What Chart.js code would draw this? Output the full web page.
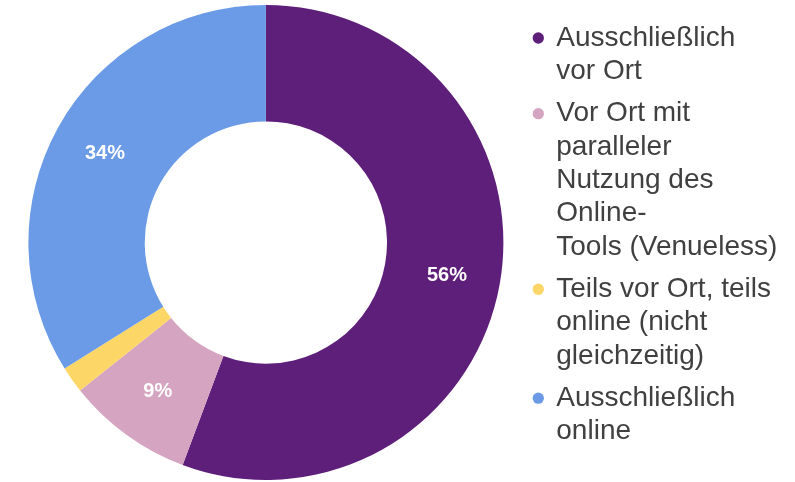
<!DOCTYPE html>
<html>
<head>
<meta charset="utf-8">
<script src="https://cdn.jsdelivr.net/npm/chart.js@4"></script>
<style>
  body { margin: 0; background: #fff; }
  #wrap { width: 795px; height: 482px; position: relative; }
</style>
</head>
<body>
<div id="wrap"><canvas id="chart"></canvas></div>
<script>
var labels = [
    ["Ausschließlich", "vor Ort"],
    ["Vor Ort mit", "paralleler", "Nutzung des", "Online-", "Tools (Venueless)"],
    ["Teils vor Ort, teils", "online (nicht", "gleichzeitig)"],
    ["Ausschließlich", "online"]
];
var values = [55.7, 8.6, 1.8, 33.9];
var colors = ["#5E1F7A", "#D4A4C0", "#FDD668", "#6B9BE6"];

// white percent labels inside the slices (small ones skipped)
var sliceLabels = {
    id: 'sliceLabels',
    afterDatasetsDraw: function(chart) {
        var ctx = chart.ctx;
        var meta = chart.getDatasetMeta(0);
        ctx.save();
        ctx.fillStyle = '#fff';
        ctx.font = 'bold 20px "Liberation Sans", Arial, sans-serif';
        ctx.textAlign = 'center';
        ctx.textBaseline = 'middle';
        meta.data.forEach(function(arc, i) {
            var v = values[i];
            if (v < 5) return;
            var p = arc.getProps(['x', 'y', 'startAngle', 'endAngle', 'innerRadius', 'outerRadius']);
            var a = (p.startAngle + p.endAngle) / 2;
            var r = p.innerRadius + (p.outerRadius - p.innerRadius) * 0.54;
            ctx.fillText(Math.round(v) + '%', p.x + Math.cos(a) * r, p.y + Math.sin(a) * r);
        });
        ctx.restore();
    }
};

var chart = new Chart(document.getElementById('chart'), {
    type: 'doughnut',
    data: {
        labels: labels,
        datasets: [{
            data: values,
            backgroundColor: colors,
            borderWidth: 0
        }]
    },
    options: {
        responsive: true,
        maintainAspectRatio: false,
        animation: false,
        cutout: '51%',
        layout: { padding: { left: 6.5, right: 7.7, top: 5, bottom: 2 } },
        plugins: {
            tooltip: { enabled: false },
            legend: {
                position: 'right',
                align: 'start',
                // blank title only used as top spacing
                title: { display: true, text: ' ', padding: 0, font: { size: 8, lineHeight: 1.25 } },
                labels: {
                    usePointStyle: true,
                    pointStyle: 'circle',
                    boxWidth: 8,
                    boxHeight: 8,
                    padding: 9,
                    color: '#404040',
                    font: { family: '"Liberation Sans", Arial, sans-serif', size: 28, lineHeight: 1.19 }
                }
            }
        }
    },
    plugins: [sliceLabels]
});
</script>
</body>
</html>
